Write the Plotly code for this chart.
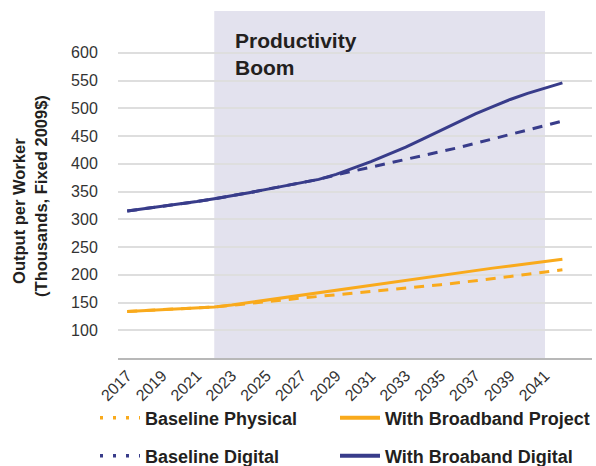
import plotly.graph_objects as go

# Years on the horizontal axis
years = list(range(2017, 2043))

# Output per worker, thousands of fixed 2009 dollars
baseline_physical = [134, 135.5, 137, 138.5, 140, 142, 145, 148.5, 152, 155, 158, 161, 164,
                     167, 170, 172.5, 175, 179, 182, 185.5, 189, 193, 197, 201, 205, 209]
with_broadband_project = [134, 135.5, 137, 138.5, 140, 142, 145.5, 150, 154.5, 159, 163, 167, 171.5,
                          176, 180.5, 185, 189.5, 194, 198.5, 203, 207.5, 212, 216, 220, 224, 228]
baseline_digital = [315, 319, 323, 328, 332, 337, 342, 348, 354, 360, 366, 372, 380,
                    387, 394, 400, 407, 414, 421, 429, 437, 445, 453, 462, 470, 477]
with_broadband_digital = [315, 319, 323, 328, 332, 337, 342, 348, 354, 360, 366, 372, 381,
                          392, 404, 417, 430, 445, 460, 475, 490, 503, 516, 527, 537, 546]

x_ticks = list(range(2017, 2042, 2))
y_ticks = [100, 150, 200, 250, 300, 350, 400, 450, 500, 550, 600]

boom_start, boom_end = 2022, 2041

ORANGE = "#F9AA1C"
NAVY = "#383C8A"
INK = "#231F20"
FONT = "Liberation Sans"

fig = go.Figure()

# name, values, colour, baseline?, legend id, legend position (px from left, px from top)
series = [
    ("Baseline Physical", baseline_physical, ORANGE, True, "legend", (95, 418)),
    ("With Broadband Project", with_broadband_project, ORANGE, False, "legend2", (335, 418)),
    ("Baseline Digital", baseline_digital, NAVY, True, "legend3", (95, 456)),
    ("With Broaband Digital", with_broadband_digital, NAVY, False, "legend4", (335, 456)),
]

legend_layouts = {}
for name, values, color, is_baseline, leg, (lx, ly) in series:
    fig.add_trace(go.Scatter(
        x=years, y=values, mode="lines", name=name,
        line=dict(color=color, width=3, dash="10px,8px" if is_baseline else "solid"),
        showlegend=False, hoverinfo="skip",
    ))
    # legend entry (baselines shown with a dotted key)
    fig.add_trace(go.Scatter(
        x=[None], y=[None], mode="lines", name=name, legend=leg,
        line=dict(color=color, width=3.5 if is_baseline else 4,
                  dash="3px,10px" if is_baseline else "solid"),
    ))
    legend_layouts[leg] = dict(
        x=lx / 596, y=1 - ly / 466, xref="container", yref="container",
        xanchor="left", yanchor="middle", orientation="h", itemwidth=40,
        font=dict(family=FONT, size=18, color=INK, weight="bold"),
        bgcolor="rgba(0,0,0,0)", itemclick=False, itemdoubleclick=False,
    )

fig.add_shape(type="rect", xref="x", yref="paper", x0=boom_start, x1=boom_end, y0=0, y1=1,
              fillcolor="#E3E2EE", line_width=0, layer="between")

fig.add_annotation(x=2023.1, y=0.877, xref="x", yref="paper", text="<b>Productivity<br>Boom</b>",
                   showarrow=False, xanchor="left", yanchor="middle", align="left",
                   font=dict(family=FONT, size=21, color=INK))

# y-axis title, two lines
for text, xpos, ypos in (("Output per Worker", 19, 211), ("(Thousands, Fixed 2009$)", 41, 196)):
    fig.add_annotation(x=(xpos - 118) / 474, y=(358.2 - ypos) / 347.2, xref="paper", yref="paper",
                       textangle=-90, text=f"<b>{text}</b>", showarrow=False,
                       xanchor="center", yanchor="middle",
                       font=dict(family=FONT, size=16.5, color=INK))

fig.update_layout(
    width=596, height=466,
    margin=dict(l=118, r=4, t=11, b=108, autoexpand=False),
    paper_bgcolor="white", plot_bgcolor="white",
    font=dict(family=FONT, color="#333333"),
    **legend_layouts,
    xaxis=dict(range=[2016.47, 2043.7], tickvals=x_ticks, tickangle=-45,
               showgrid=False, zeroline=False, showline=True, linecolor="#B8B8B8", linewidth=2,
               ticks="", tickfont=dict(family=FONT, size=16, color="#333333")),
    yaxis=dict(range=[50, 675.5], tickvals=y_ticks, showgrid=True, gridcolor="#DEDEDE",
               gridwidth=1.5, zeroline=False, showline=False, ticks="outside", ticklen=16,
               tickcolor="rgba(0,0,0,0)", tickfont=dict(family=FONT, size=16, color="#333333")),
)

fig.write_html("out.html")
